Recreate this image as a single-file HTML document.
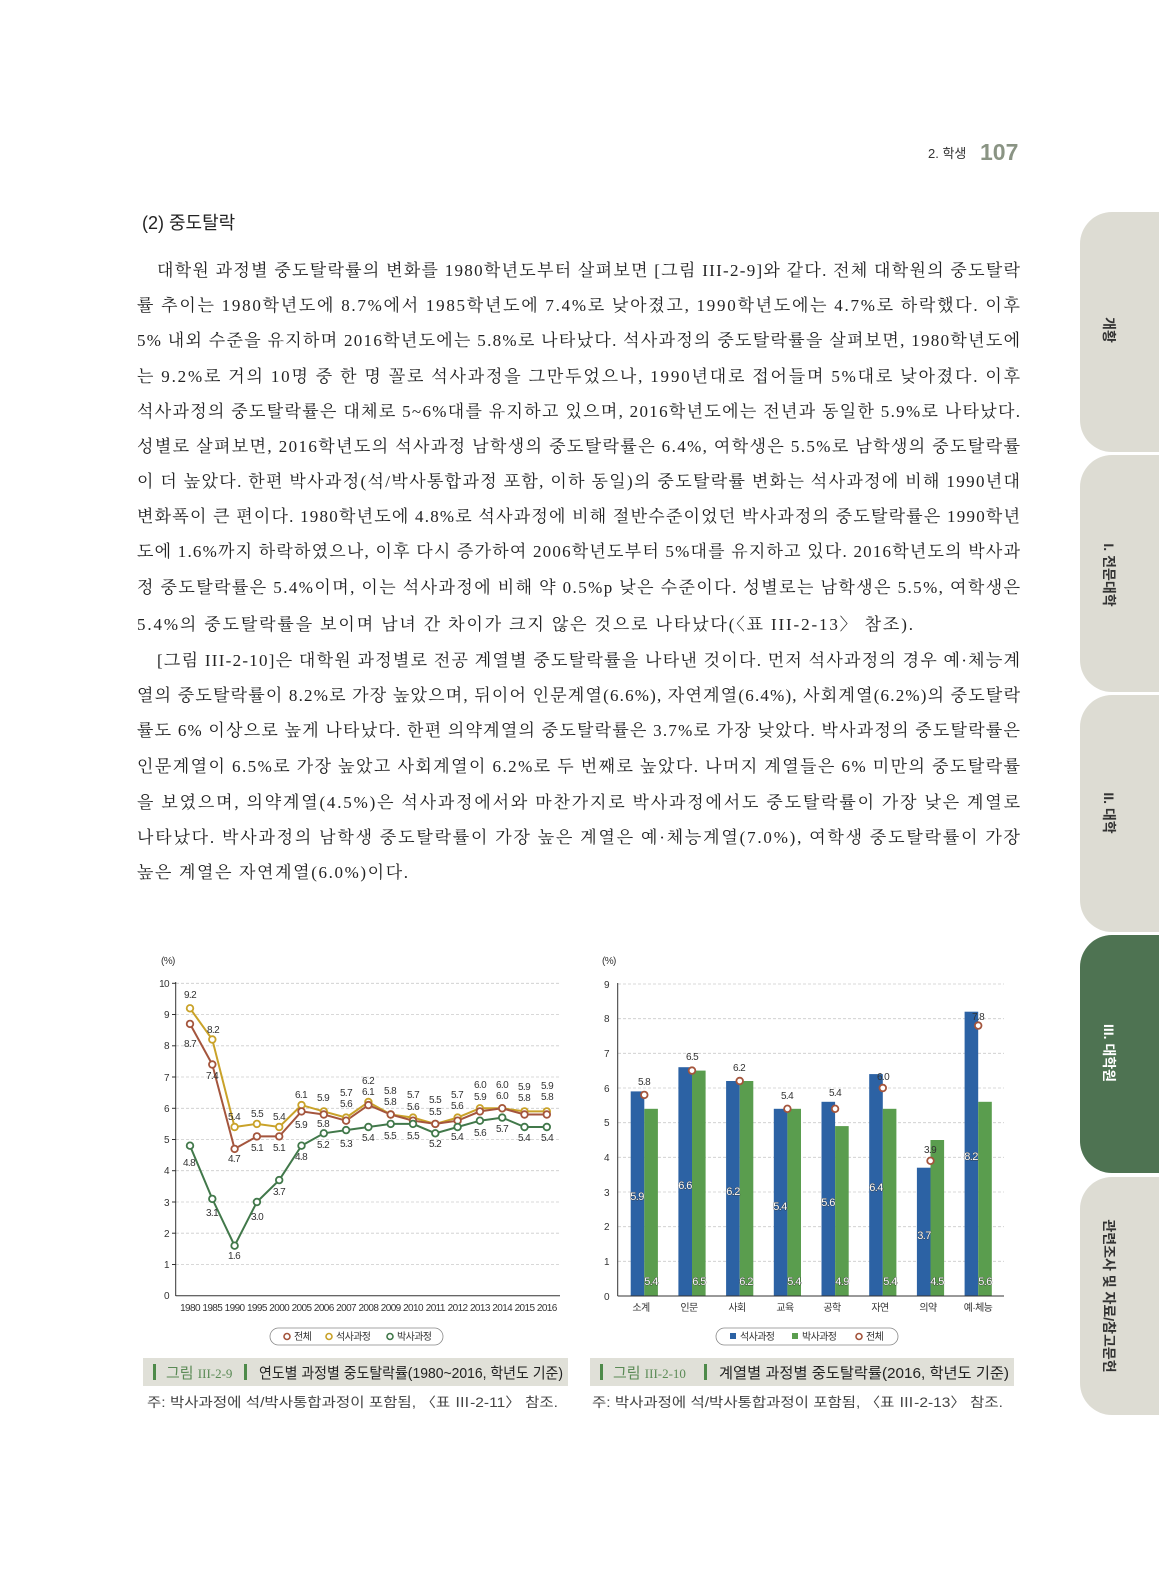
<!DOCTYPE html>
<html><head><meta charset="utf-8"><style>
html,body{margin:0;padding:0;background:#fff;}
svg{display:block;}
.b{font-family:"Liberation Serif","Noto Serif CJK SC",serif;font-size:17px;fill:#222;}
.s{font-family:"Liberation Sans","Noto Sans CJK KR",sans-serif;}
.t{font-family:"Liberation Sans","Noto Sans CJK KR",sans-serif;font-size:10px;fill:#333;letter-spacing:-0.6px;}
.w{font-family:"Liberation Sans","Noto Sans CJK KR",sans-serif;font-size:11px;fill:#fff;stroke:#333;stroke-width:0.7px;paint-order:stroke;letter-spacing:-0.6px;}
</style></head><body>
<svg width="1159" height="1571" viewBox="0 0 1159 1571" xmlns="http://www.w3.org/2000/svg">
<!-- header -->
<text x="928" y="158" class="s" font-size="13" fill="#333">2. 학생</text>
<text x="980" y="160" class="s" font-size="23" font-weight="bold" fill="#8a9484">107</text>
<text x="142" y="229" class="s" font-size="18" fill="#222">(2) 중도탈락</text>

<!-- sidebar tabs -->
<rect x="1080" y="212" width="120" height="240" rx="32" fill="#dddcd3"/>
<rect x="1080" y="455" width="120" height="237" rx="32" fill="#dddcd3"/>
<rect x="1080" y="695" width="120" height="237" rx="32" fill="#dddcd3"/>
<rect x="1080" y="935" width="120" height="238" rx="32" fill="#4e7352"/>
<rect x="1080" y="1177" width="120" height="238" rx="32" fill="#dddcd3"/>
<g class="s" font-size="14" font-weight="bold" text-anchor="middle">
<text transform="translate(1104,330) rotate(90)" fill="#333">개황</text>
<text transform="translate(1104,575) rotate(90)" fill="#333">I. 전문대학</text>
<text transform="translate(1104,813) rotate(90)" fill="#333">II. 대학</text>
<text transform="translate(1104,1053) rotate(90)" fill="#fff">III. 대학원</text>
<text transform="translate(1104,1296) rotate(90)" fill="#333">관련조사 및 자료/참고문헌</text>
</g>

<!-- body text -->
<g class="b" lengthAdjust="spacing">
<text x="157" y="276" textLength="863" lengthAdjust="spacing">대학원 과정별 중도탈락률의 변화를 1980학년도부터 살펴보면 [그림 III-2-9]와 같다. 전체 대학원의 중도탈락</text>
<text x="137" y="311" textLength="883" lengthAdjust="spacing">률 추이는 1980학년도에 8.7%에서 1985학년도에 7.4%로 낮아졌고, 1990학년도에는 4.7%로 하락했다. 이후</text>
<text x="137" y="346" textLength="883" lengthAdjust="spacing">5% 내외 수준을 유지하며 2016학년도에는 5.8%로 나타났다. 석사과정의 중도탈락률을 살펴보면, 1980학년도에</text>
<text x="137" y="382" textLength="883" lengthAdjust="spacing">는 9.2%로 거의 10명 중 한 명 꼴로 석사과정을 그만두었으나, 1990년대로 접어들며 5%대로 낮아졌다. 이후</text>
<text x="137" y="417" textLength="883" lengthAdjust="spacing">석사과정의 중도탈락률은 대체로 5~6%대를 유지하고 있으며, 2016학년도에는 전년과 동일한 5.9%로 나타났다.</text>
<text x="137" y="452" textLength="883" lengthAdjust="spacing">성별로 살펴보면, 2016학년도의 석사과정 남학생의 중도탈락률은 6.4%, 여학생은 5.5%로 남학생의 중도탈락률</text>
<text x="137" y="487" textLength="883" lengthAdjust="spacing">이 더 높았다. 한편 박사과정(석/박사통합과정 포함, 이하 동일)의 중도탈락률 변화는 석사과정에 비해 1990년대</text>
<text x="137" y="522" textLength="883" lengthAdjust="spacing">변화폭이 큰 편이다. 1980학년도에 4.8%로 석사과정에 비해 절반수준이었던 박사과정의 중도탈락률은 1990학년</text>
<text x="137" y="557" textLength="883" lengthAdjust="spacing">도에 1.6%까지 하락하였으나, 이후 다시 증가하여 2006학년도부터 5%대를 유지하고 있다. 2016학년도의 박사과</text>
<text x="137" y="593" textLength="883" lengthAdjust="spacing">정 중도탈락률은 5.4%이며, 이는 석사과정에 비해 약 0.5%p 낮은 수준이다. 성별로는 남학생은 5.5%, 여학생은</text>
<text x="137" y="630" textLength="776" lengthAdjust="spacing">5.4%의 중도탈락률을 보이며 남녀 간 차이가 크지 않은 것으로 나타났다(〈표 III-2-13〉 참조).</text>
<text x="157" y="666" textLength="863" lengthAdjust="spacing">[그림 III-2-10]은 대학원 과정별로 전공 계열별 중도탈락률을 나타낸 것이다. 먼저 석사과정의 경우 예·체능계</text>
<text x="137" y="701" textLength="883" lengthAdjust="spacing">열의 중도탈락률이 8.2%로 가장 높았으며, 뒤이어 인문계열(6.6%), 자연계열(6.4%), 사회계열(6.2%)의 중도탈락</text>
<text x="137" y="736" textLength="883" lengthAdjust="spacing">률도 6% 이상으로 높게 나타났다. 한편 의약계열의 중도탈락률은 3.7%로 가장 낮았다. 박사과정의 중도탈락률은</text>
<text x="137" y="772" textLength="883" lengthAdjust="spacing">인문계열이 6.5%로 가장 높았고 사회계열이 6.2%로 두 번째로 높았다. 나머지 계열들은 6% 미만의 중도탈락률</text>
<text x="137" y="808" textLength="883" lengthAdjust="spacing">을 보였으며, 의약계열(4.5%)은 석사과정에서와 마찬가지로 박사과정에서도 중도탈락률이 가장 낮은 계열로</text>
<text x="137" y="843" textLength="883" lengthAdjust="spacing">나타났다. 박사과정의 남학생 중도탈락률이 가장 높은 계열은 예·체능계열(7.0%), 여학생 중도탈락률이 가장</text>
<text x="137" y="878" textLength="271" lengthAdjust="spacing">높은 계열은 자연계열(6.0%)이다.</text>
</g>

<!-- LEFT CHART -->
<text x="161" y="964" class="t" font-size="8">(%)</text>
<g stroke="#ccc" stroke-dasharray="3,2" stroke-width="0.8">
<line x1="176" x2="560" y1="983.3" y2="983.3"/><line x1="176" x2="560" y1="1014.5" y2="1014.5"/>
<line x1="176" x2="560" y1="1045.8" y2="1045.8"/><line x1="176" x2="560" y1="1077" y2="1077"/>
<line x1="176" x2="560" y1="1108.3" y2="1108.3"/><line x1="176" x2="560" y1="1139.5" y2="1139.5"/>
<line x1="176" x2="560" y1="1170.7" y2="1170.7"/><line x1="176" x2="560" y1="1202" y2="1202"/>
<line x1="176" x2="560" y1="1233.2" y2="1233.2"/><line x1="176" x2="560" y1="1264.5" y2="1264.5"/>
</g>
<line x1="175.7" x2="175.7" y1="982" y2="1296" stroke="#333"/>
<line x1="175.7" x2="560" y1="1295.7" y2="1295.7" stroke="#333"/>
<g stroke="#333"><line x1="172" x2="176" y1="983.3" y2="983.3"/><line x1="172" x2="176" y1="1014.5" y2="1014.5"/><line x1="172" x2="176" y1="1045.8" y2="1045.8"/><line x1="172" x2="176" y1="1077" y2="1077"/><line x1="172" x2="176" y1="1108.3" y2="1108.3"/><line x1="172" x2="176" y1="1139.5" y2="1139.5"/><line x1="172" x2="176" y1="1170.7" y2="1170.7"/><line x1="172" x2="176" y1="1202" y2="1202"/><line x1="172" x2="176" y1="1233.2" y2="1233.2"/><line x1="172" x2="176" y1="1264.5" y2="1264.5"/></g>
<g class="t" text-anchor="end">
<text x="169" y="987">10</text><text x="169" y="1018">9</text><text x="169" y="1049">8</text><text x="169" y="1081">7</text><text x="169" y="1112">6</text><text x="169" y="1143">5</text><text x="169" y="1174">4</text><text x="169" y="1206">3</text><text x="169" y="1237">2</text><text x="169" y="1268">1</text><text x="169" y="1299">0</text>
</g>
<g class="t" font-size="8.5" text-anchor="middle">
<text x="190" y="1311">1980</text><text x="212.3" y="1311">1985</text><text x="234.6" y="1311">1990</text><text x="256.9" y="1311">1995</text><text x="279.2" y="1311">2000</text><text x="301.5" y="1311">2005</text><text x="323.8" y="1311">2006</text><text x="346.1" y="1311">2007</text><text x="368.4" y="1311">2008</text><text x="390.7" y="1311">2009</text><text x="413" y="1311">2010</text><text x="435.3" y="1311">2011</text><text x="457.6" y="1311">2012</text><text x="479.9" y="1311">2013</text><text x="502.2" y="1311">2014</text><text x="524.5" y="1311">2015</text><text x="546.8" y="1311">2016</text>
</g>
<g fill="none" stroke-width="2">
<polyline stroke="#c9a229" points="190,1008.3 212.3,1039.5 234.6,1127 256.9,1123.9 279.2,1127 301.5,1105.1 323.8,1111.4 346.1,1117.6 368.4,1102 390.7,1114.5 413,1117.6 435.3,1123.9 457.6,1117.6 479.9,1108.3 502.2,1108.3 524.5,1111.4 546.8,1111.4"/>
<polyline stroke="#a4553d" points="190,1023.9 212.3,1064.5 234.6,1148.9 256.9,1136.4 279.2,1136.4 301.5,1111.4 323.8,1114.5 346.1,1120.7 368.4,1105.1 390.7,1114.5 413,1120.7 435.3,1123.9 457.6,1120.7 479.9,1111.4 502.2,1108.3 524.5,1114.5 546.8,1114.5"/>
<polyline stroke="#41784a" points="190,1145.7 212.3,1198.9 234.6,1245.7 256.9,1202 279.2,1180.1 301.5,1145.7 323.8,1133.3 346.1,1130.1 368.4,1127 390.7,1123.9 413,1123.9 435.3,1133.3 457.6,1127 479.9,1120.7 502.2,1117.6 524.5,1127 546.8,1127"/>
</g>
<g fill="#fff" stroke-width="1.8">
<g stroke="#c9a229"><circle cx="190" cy="1008.3" r="3.3"/><circle cx="212.3" cy="1039.5" r="3.3"/><circle cx="234.6" cy="1127" r="3.3"/><circle cx="256.9" cy="1123.9" r="3.3"/><circle cx="279.2" cy="1127" r="3.3"/><circle cx="301.5" cy="1105.1" r="3.3"/><circle cx="323.8" cy="1111.4" r="3.3"/><circle cx="346.1" cy="1117.6" r="3.3"/><circle cx="368.4" cy="1102" r="3.3"/><circle cx="390.7" cy="1114.5" r="3.3"/><circle cx="413" cy="1117.6" r="3.3"/><circle cx="435.3" cy="1123.9" r="3.3"/><circle cx="457.6" cy="1117.6" r="3.3"/><circle cx="479.9" cy="1108.3" r="3.3"/><circle cx="502.2" cy="1108.3" r="3.3"/><circle cx="524.5" cy="1111.4" r="3.3"/><circle cx="546.8" cy="1111.4" r="3.3"/></g>
<g stroke="#a4553d"><circle cx="190" cy="1023.9" r="3.3"/><circle cx="212.3" cy="1064.5" r="3.3"/><circle cx="234.6" cy="1148.9" r="3.3"/><circle cx="256.9" cy="1136.4" r="3.3"/><circle cx="279.2" cy="1136.4" r="3.3"/><circle cx="301.5" cy="1111.4" r="3.3"/><circle cx="323.8" cy="1114.5" r="3.3"/><circle cx="346.1" cy="1120.7" r="3.3"/><circle cx="368.4" cy="1105.1" r="3.3"/><circle cx="390.7" cy="1114.5" r="3.3"/><circle cx="413" cy="1120.7" r="3.3"/><circle cx="435.3" cy="1123.9" r="3.3"/><circle cx="457.6" cy="1120.7" r="3.3"/><circle cx="479.9" cy="1111.4" r="3.3"/><circle cx="502.2" cy="1108.3" r="3.3"/><circle cx="524.5" cy="1114.5" r="3.3"/><circle cx="546.8" cy="1114.5" r="3.3"/></g>
<g stroke="#41784a"><circle cx="190" cy="1145.7" r="3.3"/><circle cx="212.3" cy="1198.9" r="3.3"/><circle cx="234.6" cy="1245.7" r="3.3"/><circle cx="256.9" cy="1202" r="3.3"/><circle cx="279.2" cy="1180.1" r="3.3"/><circle cx="301.5" cy="1145.7" r="3.3"/><circle cx="323.8" cy="1133.3" r="3.3"/><circle cx="346.1" cy="1130.1" r="3.3"/><circle cx="368.4" cy="1127" r="3.3"/><circle cx="390.7" cy="1123.9" r="3.3"/><circle cx="413" cy="1123.9" r="3.3"/><circle cx="435.3" cy="1133.3" r="3.3"/><circle cx="457.6" cy="1127" r="3.3"/><circle cx="479.9" cy="1120.7" r="3.3"/><circle cx="502.2" cy="1117.6" r="3.3"/><circle cx="524.5" cy="1127" r="3.3"/><circle cx="546.8" cy="1127" r="3.3"/></g>
</g>
<g class="t" text-anchor="middle">
<text x="190" y="998">9.2</text><text x="213" y="1033">8.2</text><text x="234" y="1120">5.4</text><text x="257" y="1117">5.5</text><text x="279" y="1120">5.4</text><text x="301" y="1098">6.1</text><text x="323" y="1101">5.9</text>
<text x="346" y="1096">5.7</text><text x="368" y="1084">6.2</text><text x="390" y="1094">5.8</text><text x="413" y="1098">5.7</text><text x="435" y="1103">5.5</text><text x="457" y="1098">5.7</text><text x="480" y="1088">6.0</text><text x="502" y="1088">6.0</text><text x="524" y="1090">5.9</text><text x="547" y="1089">5.9</text>
<text x="346" y="1107">5.6</text><text x="368" y="1095">6.1</text><text x="390" y="1105">5.8</text><text x="413" y="1110">5.6</text><text x="435" y="1115">5.5</text><text x="457" y="1109">5.6</text><text x="480" y="1100">5.9</text><text x="502" y="1099">6.0</text><text x="524" y="1101">5.8</text><text x="547" y="1100">5.8</text>
<text x="190" y="1047">8.7</text><text x="212" y="1079">7.4</text><text x="234" y="1162">4.7</text><text x="257" y="1151">5.1</text><text x="279" y="1151">5.1</text><text x="301" y="1128">5.9</text><text x="323" y="1127">5.8</text>
<text x="189" y="1166">4.8</text><text x="212" y="1216">3.1</text><text x="234" y="1259">1.6</text><text x="257" y="1220">3.0</text><text x="279" y="1195">3.7</text><text x="301" y="1160">4.8</text><text x="323" y="1148">5.2</text><text x="346" y="1147">5.3</text><text x="368" y="1141">5.4</text><text x="390" y="1139">5.5</text><text x="413" y="1139">5.5</text><text x="435" y="1147">5.2</text><text x="457" y="1140">5.4</text><text x="480" y="1136">5.6</text><text x="502" y="1132">5.7</text><text x="524" y="1141">5.4</text><text x="547" y="1141">5.4</text>
</g>
<rect x="270" y="1328" width="173" height="17" rx="8.5" fill="#fff" stroke="#888" stroke-width="0.8"/>
<g stroke-width="1.6" fill="#fff"><circle cx="287" cy="1336.5" r="3" stroke="#a4553d"/><circle cx="329" cy="1336.5" r="3" stroke="#c9a229"/><circle cx="390" cy="1336.5" r="3" stroke="#41784a"/></g>
<g class="t" font-size="9.5"><text x="294" y="1340">전체</text><text x="336" y="1340">석사과정</text><text x="397" y="1340">박사과정</text></g>

<!-- RIGHT CHART -->
<text x="602" y="964" class="t" font-size="8">(%)</text>
<g stroke="#ccc" stroke-dasharray="3,2" stroke-width="0.8">
<line x1="618" x2="1004" y1="984" y2="984"/><line x1="618" x2="1004" y1="1018.7" y2="1018.7"/><line x1="618" x2="1004" y1="1053.3" y2="1053.3"/><line x1="618" x2="1004" y1="1088" y2="1088"/><line x1="618" x2="1004" y1="1122.7" y2="1122.7"/><line x1="618" x2="1004" y1="1157.3" y2="1157.3"/><line x1="618" x2="1004" y1="1192" y2="1192"/><line x1="618" x2="1004" y1="1226.7" y2="1226.7"/><line x1="618" x2="1004" y1="1261.3" y2="1261.3"/>
</g>
<g class="t" text-anchor="end">
<text x="609" y="988">9</text><text x="609" y="1022">8</text><text x="609" y="1057">7</text><text x="609" y="1092">6</text><text x="609" y="1126">5</text><text x="609" y="1161">4</text><text x="609" y="1196">3</text><text x="609" y="1230">2</text><text x="609" y="1265">1</text><text x="609" y="1300">0</text>
</g>
<g fill="#2c62a4">
<rect x="630.7" y="1091.4" width="13.6" height="204.6"/><rect x="678.4" y="1067.2" width="13.6" height="228.8"/><rect x="726.1" y="1081" width="13.6" height="215"/><rect x="773.8" y="1108.8" width="13.6" height="187.2"/><rect x="821.5" y="1101.8" width="13.6" height="194.2"/><rect x="869.2" y="1074.1" width="13.6" height="221.9"/><rect x="916.9" y="1167.7" width="13.6" height="128.3"/><rect x="964.6" y="1011.7" width="13.6" height="284.3"/>
</g>
<g fill="#5a9d4e">
<rect x="644.3" y="1108.8" width="13.6" height="187.2"/><rect x="692" y="1070.6" width="13.6" height="225.4"/><rect x="739.7" y="1081" width="13.6" height="215"/><rect x="787.4" y="1108.8" width="13.6" height="187.2"/><rect x="835.1" y="1126.1" width="13.6" height="169.9"/><rect x="882.8" y="1108.8" width="13.6" height="187.2"/><rect x="930.5" y="1140" width="13.6" height="156"/><rect x="978.2" y="1101.8" width="13.6" height="194.2"/>
</g>
<line x1="617.7" x2="617.7" y1="983" y2="1296" stroke="#333"/>
<line x1="617.7" x2="1004" y1="1296" y2="1296" stroke="#333"/>
<g fill="#fff" stroke="#a4553d" stroke-width="1.8">
<circle cx="644.3" cy="1094.9" r="3.3"/><circle cx="692" cy="1070.6" r="3.3"/><circle cx="739.7" cy="1081" r="3.3"/><circle cx="787.4" cy="1108.8" r="3.3"/><circle cx="835.1" cy="1108.8" r="3.3"/><circle cx="882.8" cy="1088" r="3.3"/><circle cx="930.5" cy="1160.8" r="3.3"/><circle cx="978.2" cy="1025.6" r="3.3"/>
</g>
<g class="t" text-anchor="middle">
<text x="644" y="1085">5.8</text><text x="692" y="1060">6.5</text><text x="739" y="1071">6.2</text><text x="787" y="1099">5.4</text><text x="835" y="1096">5.4</text><text x="883" y="1080">6.0</text><text x="930" y="1153">3.9</text><text x="978" y="1020">7.8</text>
</g>
<g class="w" text-anchor="middle">
<text x="637" y="1200">5.9</text><text x="685" y="1189">6.6</text><text x="733" y="1195">6.2</text><text x="780" y="1210">5.4</text><text x="828" y="1206">5.6</text><text x="876" y="1191">6.4</text><text x="924" y="1239">3.7</text><text x="971" y="1160">8.2</text>
<text x="651" y="1285">5.4</text><text x="699" y="1285">6.5</text><text x="746" y="1285">6.2</text><text x="794" y="1285">5.4</text><text x="842" y="1285">4.9</text><text x="890" y="1285">5.4</text><text x="937" y="1285">4.5</text><text x="985" y="1285">5.6</text>
</g>
<g class="t" font-size="9.5" text-anchor="middle">
<text x="641" y="1311">소계</text><text x="689" y="1311">인문</text><text x="737" y="1311">사회</text><text x="785" y="1311">교육</text><text x="832" y="1311">공학</text><text x="880" y="1311">자연</text><text x="928" y="1311">의약</text><text x="978" y="1311">예·체능</text>
</g>
<rect x="716" y="1328" width="182" height="17" rx="8.5" fill="#fff" stroke="#888" stroke-width="0.8"/>
<rect x="730" y="1333" width="6" height="6" fill="#2c62a4"/><rect x="792" y="1333" width="6" height="6" fill="#5a9d4e"/>
<circle cx="859" cy="1336.5" r="3" fill="#fff" stroke="#a4553d" stroke-width="1.6"/>
<g class="t" font-size="9.5"><text x="740" y="1340">석사과정</text><text x="802" y="1340">박사과정</text><text x="866" y="1340">전체</text></g>

<!-- captions -->
<rect x="143" y="1358" width="425" height="28" fill="#e0e0d8"/>
<rect x="590" y="1358" width="424" height="28" fill="#e0e0d8"/>
<g class="s" font-size="15">
<rect x="153" y="1364" width="3" height="16" fill="#4e8a4a"/>
<text x="166" y="1378" fill="#5a8a55">그림 <tspan font-family="Liberation Serif,serif" font-size="13">III-2-9</tspan></text>
<rect x="244" y="1364" width="3" height="16" fill="#4e8a4a"/>
<text x="259" y="1378" fill="#222" textLength="304" lengthAdjust="spacingAndGlyphs">연도별 과정별 중도탈락률(1980~2016, 학년도 기준)</text>
<rect x="600" y="1364" width="3" height="16" fill="#4e8a4a"/>
<text x="613" y="1378" fill="#5a8a55">그림 <tspan font-family="Liberation Serif,serif" font-size="13">III-2-10</tspan></text>
<rect x="704" y="1364" width="3" height="16" fill="#4e8a4a"/>
<text x="719" y="1378" fill="#222" textLength="290" lengthAdjust="spacingAndGlyphs">계열별 과정별 중도탈락률(2016, 학년도 기준)</text>
</g>
<g class="s" font-size="13.5" fill="#444">
<text x="147" y="1407" textLength="411" lengthAdjust="spacingAndGlyphs">주: 박사과정에 석/박사통합과정이 포함됨, 〈표 Ⅲ-2-11〉 참조.</text>
<text x="592" y="1407" textLength="411" lengthAdjust="spacingAndGlyphs">주: 박사과정에 석/박사통합과정이 포함됨, 〈표 Ⅲ-2-13〉 참조.</text>
</g>
</svg>
</body></html>
